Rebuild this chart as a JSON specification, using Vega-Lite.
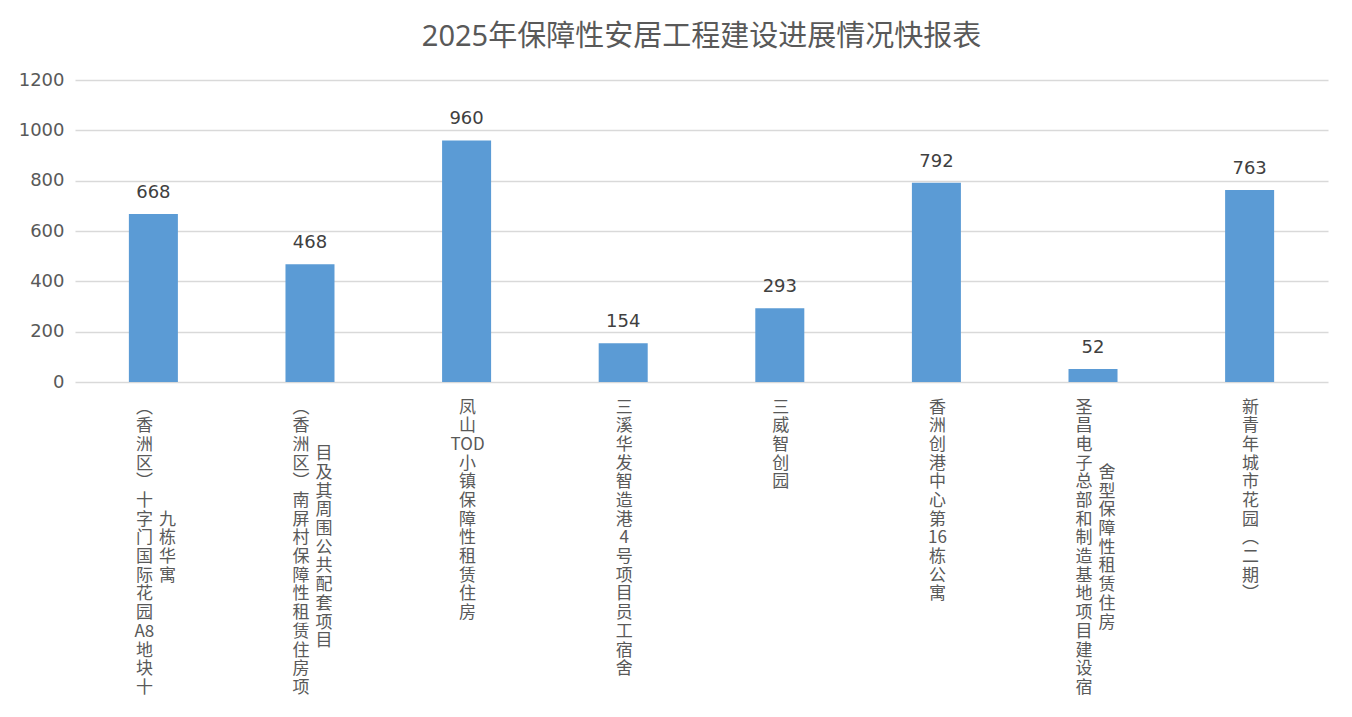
{
  "$schema": "https://vega.github.io/schema/vega-lite/v6.json",
  "width": 1253,
  "height": 302,
  "autosize": {"type": "none"},
  "padding": {"left": 75, "top": 80, "right": 24, "bottom": 335},
  "background": "#ffffff",
  "title": {
    "text": "2025年保障性安居工程建设进展情况快报表",
    "font": "Noto Sans, Noto Sans CJK SC",
    "fontSize": 29,
    "fontWeight": "normal",
    "color": "#595959",
    "anchor": "middle",
    "frame": "group",
    "offset": 19
  },
  "data": {
    "values": [
      {"name": "（香洲区）十字门国际花园A8地块十九栋华寓", "value": 668},
      {"name": "（香洲区）南屏村保障性租赁住房项目及其周围公共配套项目", "value": 468},
      {"name": "凤山TOD小镇保障性租赁住房", "value": 960},
      {"name": "三溪华发智造港4号项目员工宿舍", "value": 154},
      {"name": "三威智创园", "value": 293},
      {"name": "香洲创港中心第16栋公寓", "value": 792},
      {"name": "圣昌电子总部和制造基地项目建设宿舍型保障性租赁住房", "value": 52},
      {"name": "新青年城市花园（二期）", "value": 763}
    ]
  },
  "layer": [
    {
      "mark": {"type": "bar", "color": "#5B9BD5"},
      "encoding": {
        "x": {
          "field": "name",
          "type": "nominal",
          "sort": null,
          "scale": {"paddingInner": 0.687, "paddingOuter": 0.344},
          "axis": {
            "orient": "bottom",
            "title": null,
            "domain": false,
            "ticks": false,
            "grid": false,
            "labelAngle": 0,
            "labelBaseline": "top",
            "labelAlign": "center",
            "labelPadding": 17,
            "labelLineHeight": 18.7,
            "labelFont": "Noto Sans CJK SC",
            "labelFontSize": 17,
            "labelColor": "#595959",
            "labelOverlap": false,
            "labelBound": false,
            "labelLimit": 0,
            "labelOffset": {"condition": {"test": "length(datum.value) > 16", "value": -9}, "value": 1},
            "labelExpr": "split(replace(replace(replace(replace(replace(substring(datum.value, 0, 16 + floor(length(replace(substring(datum.value, 0, 18), regexp('[^ -~]', 'g'), '')) / 2)), regexp('（', 'g'), '︵'), regexp('）', 'g'), '︶'), regexp('([^ -~])', 'g'), '|$1|'), regexp('[|]+', 'g'), '|'), regexp('^[|]|[|]$', 'g'), ''), '|')"
          }
        },
        "y": {
          "field": "value",
          "type": "quantitative",
          "scale": {"domain": [0, 1200], "nice": false},
          "axis": {
            "title": null,
            "values": [0, 200, 400, 600, 800, 1000, 1200],
            "format": "d",
            "domain": false,
            "ticks": false,
            "labelPadding": 11,
            "labelFont": "DejaVu Sans",
            "labelFontSize": 18,
            "labelColor": "#595959",
            "gridColor": "#d9d9d9",
            "gridWidth": 1.5
          }
        }
      }
    },
    {
      "mark": {
        "type": "text",
        "baseline": "bottom",
        "dy": -12,
        "font": "DejaVu Sans",
        "fontSize": 18,
        "color": "#404040"
      },
      "encoding": {
        "x": {
          "field": "name",
          "type": "nominal",
          "sort": null,
          "axis": {
            "orient": "bottom",
            "title": null,
            "domain": false,
            "ticks": false,
            "grid": false,
            "labelAngle": 0,
            "labelBaseline": "top",
            "labelAlign": "center",
            "labelPadding": {"condition": {"test": "(length(datum.value) - 16 - floor(length(replace(substring(datum.value, 0, 18), regexp('[^ -~]', 'g'), '')) / 2)) % 2 == 1", "value": 26.35}, "value": 17},
            "labelLineHeight": 18.7,
            "labelFont": "Noto Sans CJK SC",
            "labelFontSize": 17,
            "labelColor": "#595959",
            "labelOverlap": false,
            "labelBound": false,
            "labelLimit": 0,
            "labelOffset": 14,
            "labelExpr": "length(datum.value) > 16 + floor(length(replace(substring(datum.value, 0, 18), regexp('[^ -~]', 'g'), '')) / 2) ? split(substring('\u200b\u200b\u200b\u200b\u200b\u200b\u200b\u200b\u200b\u200b\u200b\u200b\u200b\u200b\u200b\u200b', 0, floor((32 + floor(length(replace(substring(datum.value, 0, 18), regexp('[^ -~]', 'g'), '')) / 2) - length(datum.value)) / 2)) + substring(datum.value, 16 + floor(length(replace(substring(datum.value, 0, 18), regexp('[^ -~]', 'g'), '')) / 2)), '') : ''"
          }
        },
        "y": {"field": "value", "type": "quantitative"},
        "text": {"field": "value", "type": "quantitative"}
      }
    }
  ],
  "resolve": {"axis": {"x": "independent"}},
  "config": {
    "view": {"stroke": null}
  }
}
